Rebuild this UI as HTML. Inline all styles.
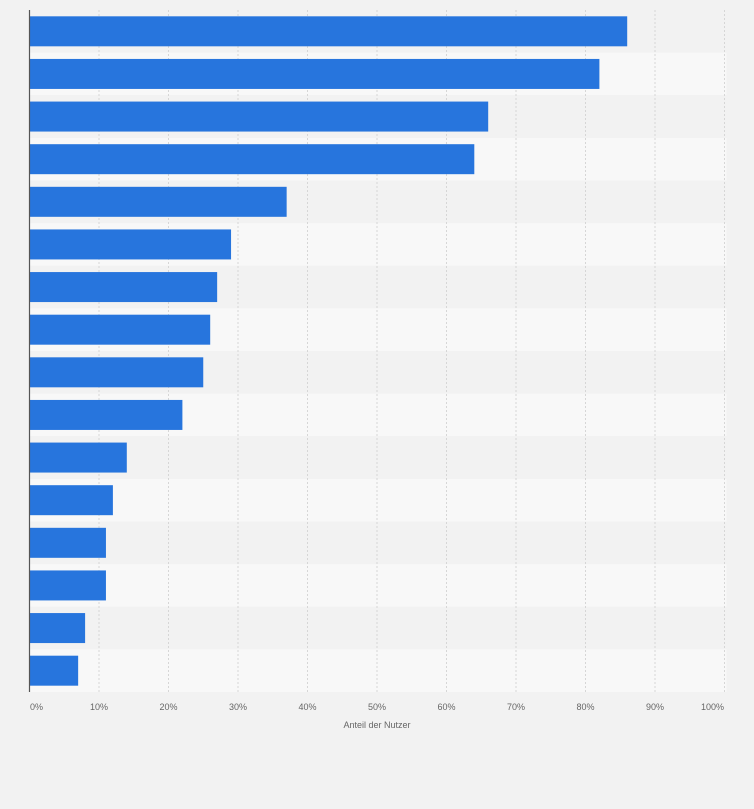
<!DOCTYPE html>
<html><head><meta charset="utf-8"><style>
body{margin:0;background:#f2f2f2;font-family:"Liberation Sans",sans-serif;}
svg{display:block}
</style></head><body>
<svg id="chart" width="754" height="809">
<rect width="754" height="809" fill="#f2f2f2"/>
<g id="bands"></g><g id="grid"></g><g id="bars"></g><g id="ticks"></g>
<line x1="29.5" y1="10" x2="29.5" y2="692" stroke="#555" stroke-width="1.2"/>
<text x="377" y="728" font-size="9" fill="#666" text-anchor="middle">Anteil der Nutzer</text>
</svg>
<script>
const values=[86,82,66,64,37,29,27,26,25,22,14,12,11,11,8,7];
const tickValues=[0,10,20,30,40,50,60,70,80,90,100];
const tickLabels=["0%","10%","20%","30%","40%","50%","60%","70%","80%","90%","100%"];
const NS="http://www.w3.org/2000/svg";
const x0=29.5,x1=724.5,yTop=10,yBottom=692;
const xs=v=>x0+(x1-x0)*v/100;
const bandH=(yBottom-yTop)/values.length;
const ys=i=>yTop+i*bandH;
function mk(t,a,p){const e=document.createElementNS(NS,t);for(const k in a)e.setAttribute(k,a[k]);document.getElementById(p).appendChild(e);return e;}
values.forEach((v,i)=>{
 const b=mk('rect',{x:x0,y:ys(i),width:x1-x0+2,height:bandH,fill:i%2?'#f8f8f8':'#f2f2f2'},'bands');
 
 
 const r=mk('rect',{x:x0,y:ys(i)+(bandH-30)/2,width:xs(v)-x0,height:30,fill:'#2775dd'},'bars');
 
 
});
tickValues.forEach((t,i)=>{
 if(t>0){const g=mk('line',{x1:xs(t),x2:xs(t),y1:yTop,y2:yBottom,stroke:'#d6d6d6','stroke-dasharray':'2,2'},'grid');
 
 }
 const tx=mk('text',{x:xs(t)+(t===0?7:t===100?-12:0),y:710,'font-size':9,fill:'#666','text-anchor':'middle'},'ticks');
 tx.textContent=tickLabels[i];
 
 
});
</script>
</body></html>
